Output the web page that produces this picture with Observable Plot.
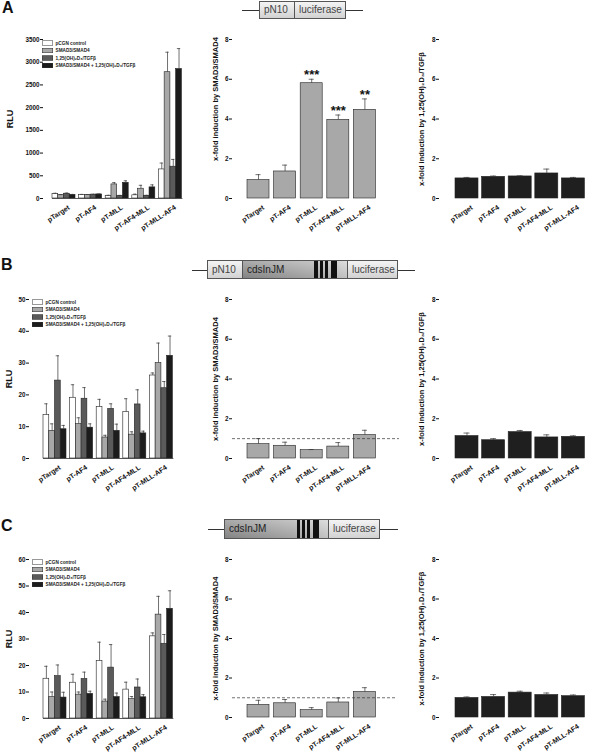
<!DOCTYPE html>
<html><head><meta charset="utf-8">
<script src="https://cdn.jsdelivr.net/npm/d3@7"></script>
<script src="https://cdn.jsdelivr.net/npm/@observablehq/plot@0.6"></script>
<style>
body{margin:0;background:#fff;font-family:"Liberation Sans",Arial,sans-serif}
#fig{position:relative;width:600px;height:753px;overflow:hidden;background:#fff}
.letter{position:absolute;font:bold 16px/16px "Liberation Sans",Arial,sans-serif;color:#111}
.legend{position:absolute;transform:scale(0.5);transform-origin:0 0;font:bold 9.4px/15px "Liberation Sans",Arial,sans-serif;color:#222;white-space:nowrap}
.legend .row{display:flex;align-items:center;height:15px}
.legend .sw{width:22px;height:10px;border:1px solid #333;margin-right:5px;box-sizing:border-box;flex:none}
.cline{position:absolute;height:1px;background:#333}
.seg{position:absolute;box-sizing:border-box;border:1px solid #555;font:10px/17px "Liberation Sans",Arial,sans-serif;color:#444;padding-left:4px;overflow:hidden;white-space:nowrap}
.light{background:linear-gradient(to bottom,#f4f4f4,#d2d2d2)}
.dark{background:linear-gradient(to bottom,rgba(255,255,255,0.25),rgba(0,0,0,0.08)),linear-gradient(to right,#8e8e8e,#b0b0b0 65%,#d2d2d2);color:#222}
.stripe{position:absolute;background:#111}
</style></head>
<body><div id="fig"></div>
<script>
// ---------------- data ----------------
const constructs = ["pTarget", "pT-AF4", "pT-MLL", "pT-AF4-MLL", "pT-MLL-AF4"];
const treatments = ["pCGN control", "SMAD3/SMAD4", "1,25(OH)₂D₃/TGFβ", "SMAD3/SMAD4 + 1,25(OH)₂D₃/TGFβ"];
const treatmentColors = ["#ffffff", "#a8a8a8", "#5a5a5a", "#1c1c1c"];
const foldLabelSmad = "x-fold induction by SMAD3/SMAD4";
const foldLabelD3 = "x-fold induction by 1,25(OH)₂D₃/TGFβ";
const rluLabel = "RLU";
const foldTicks = [0, 2, 4, 6, 8];
const rluTicksA = [0, 500, 1000, 1500, 2000, 2500, 3000, 3500];
const rluTicksB = [0, 10, 20, 30, 40, 50];
const rluTicksC = [0, 10, 20, 30, 40, 50, 60];

// Panel A (pN10-luciferase)
const rluA_pCGN = [100, 80, 60, 70, 640];
const rluA_pCGN_sd = [15, 10, 10, 25, 140];
const rluA_SMAD = [75, 80, 310, 215, 2780];
const rluA_SMAD_sd = [10, 8, 40, 75, 440];
const rluA_D3 = [105, 85, 60, 60, 700];
const rluA_D3_sd = [15, 8, 8, 10, 160];
const rluA_both = [80, 90, 345, 245, 2850];
const rluA_both_sd = [10, 8, 45, 55, 450];
const foldA_smad = [0.93, 1.36, 5.8, 3.96, 4.46];
const foldA_smad_sd = [0.27, 0.32, 0.2, 0.24, 0.55];
const foldA_d3 = [1.01, 1.09, 1.11, 1.26, 1.01];
const foldA_d3_sd = [0.05, 0.04, 0.03, 0.22, 0.05];
const starsA = ["", "", "***", "***", "**"];

// Panel B (pN10-cdsInJM-luciferase)
const rluB_pCGN = [13.7, 19.1, 16.2, 14.6, 26.1];
const rluB_pCGN_sd = [3.5, 4.1, 2.4, 4.2, 0.8];
const rluB_SMAD = [8.7, 10.8, 6.6, 7.5, 30.0];
const rluB_SMAD_sd = [2.2, 2.0, 0.7, 0.9, 6.3];
const rluB_D3 = [24.5, 18.8, 15.6, 17.0, 22.1];
const rluB_D3_sd = [7.8, 3.5, 1.6, 4.6, 2.1];
const rluB_both = [9.2, 9.7, 8.7, 7.9, 32.3];
const rluB_both_sd = [1.2, 1.2, 2.1, 0.7, 6.2];
const foldB_smad = [0.72, 0.64, 0.42, 0.6, 1.18];
const foldB_smad_sd = [0.28, 0.18, 0.03, 0.2, 0.24];
const foldB_d3 = [1.13, 0.92, 1.33, 1.06, 1.09];
const foldB_d3_sd = [0.15, 0.08, 0.08, 0.13, 0.05];

// Panel C (cdsInJM-luciferase)
const rluC_pCGN = [15.0, 13.5, 21.7, 10.9, 31.0];
const rluC_pCGN_sd = [4.7, 3.2, 7.1, 2.8, 1.3];
const rluC_SMAD = [8.1, 9.0, 6.4, 7.3, 39.2];
const rluC_SMAD_sd = [1.9, 1.0, 0.9, 1.0, 6.9];
const rluC_D3 = [16.0, 14.9, 19.2, 11.7, 28.2];
const rluC_D3_sd = [4.2, 2.6, 8.7, 3.2, 3.5];
const rluC_both = [7.9, 9.3, 8.1, 8.0, 41.4];
const rluC_both_sd = [2.0, 1.0, 1.5, 1.0, 6.8];
const foldC_smad = [0.64, 0.72, 0.37, 0.76, 1.29];
const foldC_smad_sd = [0.23, 0.19, 0.13, 0.23, 0.22];
const foldC_d3 = [0.99, 1.04, 1.26, 1.14, 1.08];
const foldC_d3_sd = [0.05, 0.12, 0.07, 0.10, 0.06];

// ---------------- layout ----------------
const fig = document.getElementById("fig");
const FONT = "'Liberation Sans', Arial, sans-serif";

function bandOpts(r0, r1, b0, step, bw, n) {
  const L = r1 - r0;
  const pi = 1 - bw / step;
  const po = (L / step - n + pi) / 2;
  const leftover = L - (n - 1) * step - bw;
  return {paddingInner: pi, paddingOuter: po, align: Math.max(0, Math.min(1, (b0 - r0) / leftover)), round: false};
}

function place(el, left, top) {
  el.style.position = "absolute";
  el.style.left = left + "px";
  el.style.top = top + "px";
  fig.appendChild(el);
}

function styleLabel(svg, size, shift) {
  svg.querySelectorAll('g[aria-label="y-axis label"]').forEach(g => {
    g.setAttribute("font-size", size);
    if (shift) g.setAttribute("transform", `translate(0,${shift}) ` + (g.getAttribute("transform") || ""));
  });
}

const svgStyle = {fontFamily: FONT, fontWeight: "bold", fontSize: "6px", color: "#111", background: "transparent", overflow: "visible"};
const tickTextOpts = {tickSize: 3, tickPadding: 1, line: true, labelAnchor: "center", labelArrow: "none", fontSize: 6.3, tickFormat: d => String(d)};
const xTextOpts = {tickRotate: -33, tickSize: 0, label: null, fontSize: 7, dx: 5, dy: -4};

function margins(c) {
  return {width: c.w, height: c.h, marginLeft: c.x0 - c.left, marginRight: c.left + c.w - c.x1, marginTop: c.y0 - c.top, marginBottom: c.top + c.h - c.y1};
}

function groupedPanel(c) {
  const rows = treatments.flatMap((t, j) => constructs.map((k, i) => ({construct: k, treatment: t, value: c.series[j][i], sd: c.sds[j][i]})));
  const yMax = c.ticks[c.ticks.length - 1];
  const svg = Plot.plot({
    ...margins(c),
    style: svgStyle,
    fx: {domain: constructs, ...bandOpts(c.x0, c.x1, c.g0, 26.6, 23, 5), axis: null, label: null},
    x: {domain: treatments, padding: 0, axis: null, round: false},
    y: {domain: [0, yMax], axis: null},
    color: {domain: treatments, range: treatmentColors},
    marks: [
      Plot.barY(rows, {fx: "construct", x: "treatment", y: "value", fill: "treatment", stroke: "#222", strokeWidth: 0.6}),
      Plot.ruleX(rows, {fx: "construct", x: "treatment", y1: "value", y2: d => d.value + d.sd, stroke: "#333", strokeWidth: 0.7}),
      Plot.tickY(rows, {fx: "construct", x: "treatment", y: d => d.value + d.sd, stroke: "#333", strokeWidth: 0.7, insetLeft: 1.2, insetRight: 1.2}),
      Plot.axisFx({anchor: "bottom", ...xTextOpts}),
      Plot.frame({anchor: "bottom", facet: "super", stroke: "#333", strokeWidth: 0.8})
    ]
  });
  place(svg, c.left, c.top);
  // y axis drawn on the full frame (not on the first facet)
  const ax = Plot.plot({
    ...margins(c),
    style: svgStyle,
    y: {domain: [0, yMax], axis: null},
    marks: [Plot.axisY({...tickTextOpts, ticks: c.ticks, label: rluLabel, labelOffset: c.labelOffset})]
  });
  styleLabel(ax, 9);
  place(ax, c.left, c.top);
  // legend (HTML)
  const lg = document.createElement("div");
  lg.className = "legend";
  treatments.forEach((t, j) => {
    const r = document.createElement("div"); r.className = "row";
    const s = document.createElement("div"); s.className = "sw"; s.style.background = treatmentColors[j];
    const tx = document.createElement("span"); tx.textContent = t;
    r.append(s, tx); lg.appendChild(r);
  });
  lg.style.left = c.legLeft + "px"; lg.style.top = c.legTop + "px";
  fig.appendChild(lg);
}

function simplePanel(c) {
  const rows = constructs.map((k, i) => ({construct: k, value: c.values[i], sd: c.sds[i], star: c.stars ? c.stars[i] : ""}));
  const marks = [
    Plot.barY(rows, {x: "construct", y: "value", fill: c.fill, stroke: "#222", strokeWidth: 0.6}),
    Plot.ruleX(rows, {x: "construct", y1: "value", y2: d => d.value + d.sd, stroke: "#333", strokeWidth: 0.7}),
    Plot.tickY(rows, {x: "construct", y: d => d.value + d.sd, stroke: "#333", strokeWidth: 0.7, insetLeft: 8.5, insetRight: 8.5}),
    Plot.axisY({...tickTextOpts, ticks: foldTicks, label: c.label, labelOffset: c.labelOffset}),
    Plot.axisX({...xTextOpts, line: true})
  ];
  if (c.dashed) marks.push(Plot.ruleY([1], {stroke: "#333", strokeWidth: 0.7, strokeDasharray: "3,2"}));
  if (c.stars) marks.push(Plot.text(rows, {x: "construct", y: d => d.value + d.sd, text: "star", dy: -4, fontSize: 13, lineAnchor: "middle", fill: "#111"}));
  const svg = Plot.plot({
    ...margins(c),
    style: svgStyle,
    x: {domain: constructs, ...bandOpts(c.x0, c.x1, c.b0, 26.6, c.bw, 5), axis: null, label: null},
    y: {domain: [0, 8], axis: null},
    marks
  });
  styleLabel(svg, 7.5, c.labelShift);
  place(svg, c.left, c.top);
}

function construct(c) {
  const l = document.createElement("div"); l.className = "cline";
  l.style.left = c.l0 + "px"; l.style.width = (c.l1 - c.l0) + "px"; l.style.top = c.ly + "px";
  fig.appendChild(l);
  c.segs.forEach(s => {
    const d = document.createElement("div");
    d.className = "seg " + s.kind;
    d.style.left = s.x + "px"; d.style.width = s.w + "px"; d.style.top = c.top + "px"; d.style.height = c.h + "px";
    d.style.lineHeight = (c.h - 2) + "px";
    d.textContent = s.label;
    fig.appendChild(d);
  });
  (c.stripes || []).forEach(s => {
    const d = document.createElement("div"); d.className = "stripe";
    d.style.left = s[0] + "px"; d.style.width = s[1] + "px"; d.style.top = (c.top + 1) + "px"; d.style.height = (c.h - 2) + "px";
    fig.appendChild(d);
  });
}

function letter(t, left, top) {
  const d = document.createElement("div"); d.className = "letter"; d.textContent = t;
  d.style.left = left + "px"; d.style.top = top + "px"; fig.appendChild(d);
}

// Letters
letter("A", 2, 0); letter("B", 1, 257); letter("C", 1, 518);

// Constructs
construct({l0: 242, l1: 363, ly: 10, top: 1, h: 18, segs: [{x: 259, w: 36, kind: "light", label: "pN10"}, {x: 294, w: 52, kind: "light", label: "luciferase"}]});
construct({l0: 192, l1: 415, ly: 270, top: 260, h: 19, segs: [{x: 207, w: 36, kind: "light", label: "pN10"}, {x: 242, w: 106, kind: "dark", label: "cdsInJM"}, {x: 347, w: 51, kind: "light", label: "luciferase"}],
  stripes: [[314, 4], [320, 3], [325, 3], [331, 6]]});
construct({l0: 208, l1: 398, ly: 529, top: 519, h: 20, segs: [{x: 224, w: 105, kind: "dark", label: "cdsInJM"}, {x: 328, w: 52, kind: "light", label: "luciferase"}],
  stripes: [[297, 3], [302, 3], [307, 3], [313, 6]]});

// Row A
groupedPanel({left: 0, top: 30, w: 205, h: 210, x0: 43, x1: 197, y0: 39, y1: 198, g0: 52, labelOffset: 37,
  ticks: rluTicksA, series: [rluA_pCGN, rluA_SMAD, rluA_D3, rluA_both], sds: [rluA_pCGN_sd, rluA_SMAD_sd, rluA_D3_sd, rluA_both_sd],
  legLeft: 42, legTop: 38.5});
simplePanel({left: 200, top: 30, w: 200, h: 210, x0: 232, x1: 392, y0: 39, y1: 198, b0: 247, bw: 22, labelOffset: 20, labelShift: -20,
  values: foldA_smad, sds: foldA_smad_sd, fill: "#a8a8a8", label: foldLabelSmad, stars: starsA});
simplePanel({left: 400, top: 30, w: 200, h: 210, x0: 439, x1: 597, y0: 39, y1: 198, b0: 455, bw: 23, labelOffset: 21,
  values: foldA_d3, sds: foldA_d3_sd, fill: "#1f1f1f", label: foldLabelD3});

// Row B
groupedPanel({left: 0, top: 290, w: 205, h: 210, x0: 29, x1: 188, y0: 299, y1: 458, g0: 43, labelOffset: 24,
  ticks: rluTicksB, series: [rluB_pCGN, rluB_SMAD, rluB_D3, rluB_both], sds: [rluB_pCGN_sd, rluB_SMAD_sd, rluB_D3_sd, rluB_both_sd],
  legLeft: 32, legTop: 297.5});
simplePanel({left: 200, top: 290, w: 200, h: 210, x0: 232, x1: 399, y0: 299, y1: 458, b0: 247, bw: 22, labelOffset: 20,
  values: foldB_smad, sds: foldB_smad_sd, fill: "#a8a8a8", label: foldLabelSmad, dashed: true});
simplePanel({left: 400, top: 290, w: 200, h: 210, x0: 439, x1: 597, y0: 299, y1: 458, b0: 455, bw: 23, labelOffset: 21,
  values: foldB_d3, sds: foldB_d3_sd, fill: "#1f1f1f", label: foldLabelD3});

// Row C
groupedPanel({left: 0, top: 550, w: 205, h: 203, x0: 29, x1: 188, y0: 559, y1: 718, g0: 43, labelOffset: 24,
  ticks: rluTicksC, series: [rluC_pCGN, rluC_SMAD, rluC_D3, rluC_both], sds: [rluC_pCGN_sd, rluC_SMAD_sd, rluC_D3_sd, rluC_both_sd],
  legLeft: 32, legTop: 557.5});
simplePanel({left: 200, top: 550, w: 200, h: 203, x0: 232, x1: 397, y0: 559, y1: 717, b0: 247, bw: 22, labelOffset: 20,
  values: foldC_smad, sds: foldC_smad_sd, fill: "#a8a8a8", label: foldLabelSmad, dashed: true});
simplePanel({left: 400, top: 550, w: 200, h: 203, x0: 439, x1: 597, y0: 559, y1: 717, b0: 455, bw: 23, labelOffset: 21,
  values: foldC_d3, sds: foldC_d3_sd, fill: "#1f1f1f", label: foldLabelD3});
</script>
</body></html>
